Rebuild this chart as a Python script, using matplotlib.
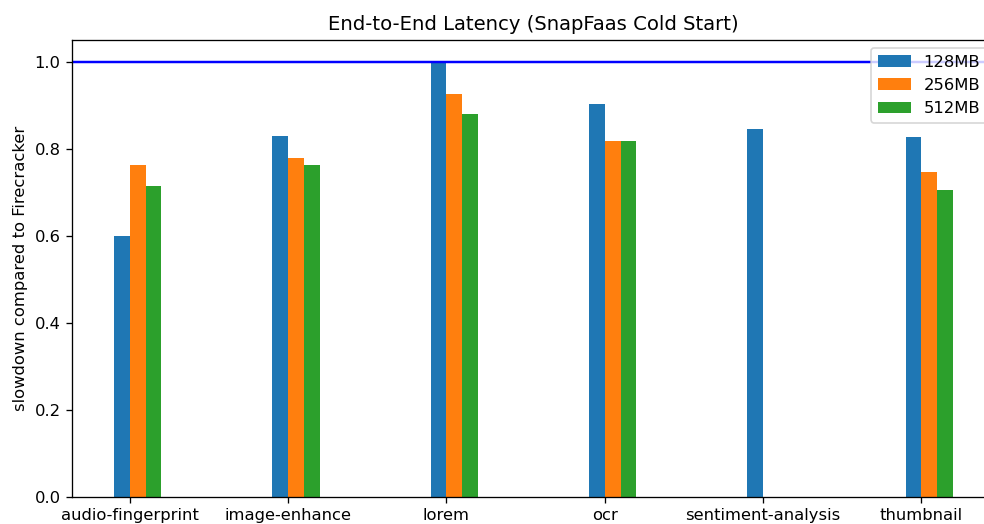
import numpy as np
import matplotlib
matplotlib.use("Agg")
import matplotlib.pyplot as plt

functions = ["audio-fingerprint", "image-enhance", "lorem", "ocr",
             "sentiment-analysis", "thumbnail"]
mem_sizes = ["128MB", "256MB", "512MB"]

# slowdown relative to firecracker, per memory size
slow_128 = [0.600, 0.829, 1.000, 0.902, 0.845, 0.828]
slow_256 = [0.763, 0.779, 0.927, 0.817, np.nan, 0.746]
slow_512 = [0.714, 0.763, 0.879, 0.817, np.nan, 0.705]

DPI = 118
fig = plt.figure(figsize=(984 / DPI, 524 / DPI), dpi=DPI)
ax = fig.add_axes([72 / 984, 27 / 524, 923 / 984, 457 / 524])

x = np.arange(len(functions))
width = 0.1
for i, (vals, label) in enumerate(zip([slow_128, slow_256, slow_512], mem_sizes)):
    ax.bar(x - width / 2 + i * width, vals, width, label=label)

ax.axhline(1.0, color="b", linewidth=1.5)
ax.set_xticks(x)
ax.set_xticklabels(functions)
ax.set_ylabel("slowdown compared to Firecracker")
ax.set_title("End-to-End Latency (SnapFaas Cold Start)")
ax.legend(loc="upper right")

fig.savefig("out.png", dpi=DPI)
